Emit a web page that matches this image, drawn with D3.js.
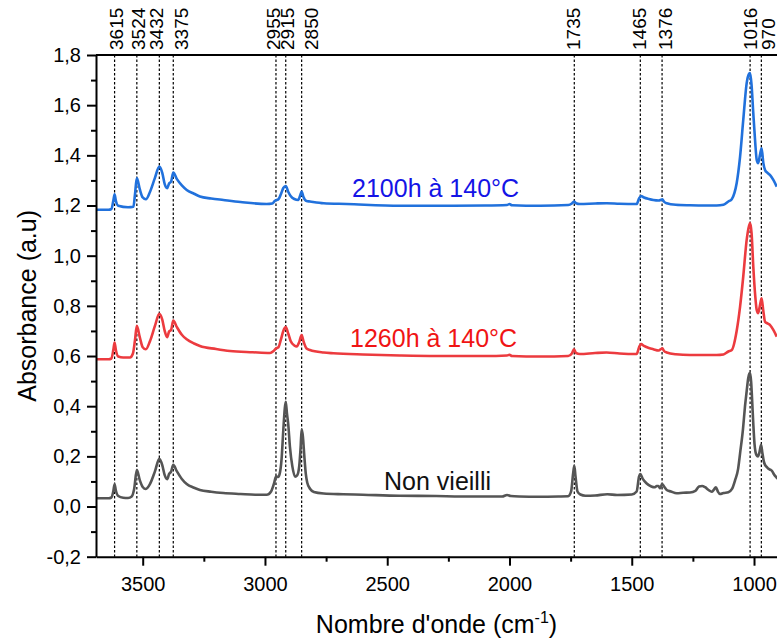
<!DOCTYPE html>
<html>
<head>
<meta charset="utf-8">
<script src="https://d3js.org/d3.v7.min.js"></script>
<style>
    body { margin: 0; background: #fff; }
    svg { display: block; font-family: 'Liberation Sans', Arial, sans-serif; }
</style>
</head>
<body>
<div id="chart"></div>
<script>
// wavenumbers (cm-1) and absorbance
var grayWn = [3690,3640,3628,3620,3615,3610,3600,3580,3560,3545,3535,3524,3512,3500,3487,3470,3450,3432,3420,3410,3400,3392,3384,3375,3360,3340,3320,3290,3266,3220,3170,3100,3040,2993,2975,2962,2955,2946,2940,2932,2925,2919,2915,2910,2905,2898,2888,2877,2868,2860,2854,2850,2845,2839,2833,2827,2815,2800,2760,2680,2600,2450,2300,2200,2100,2030,2010,1995,1960,1880,1800,1760,1748,1740,1735,1730,1722,1710,1690,1650,1600,1560,1500,1480,1470,1465,1455,1440,1420,1405,1398,1391,1384,1376,1368,1357,1340,1316,1290,1262,1240,1225,1212,1200,1186,1173,1165,1156,1148,1139,1125,1105,1090,1077,1065,1057,1045,1037,1030,1024,1019,1016,1012,1008,1003,998,990,984,978,971,966,960,955,948,940,932,925,918,910,902];
var grayAbs = [0.033,0.033,0.036,0.062,0.089,0.065,0.042,0.035,0.034,0.040,0.070,0.146,0.105,0.078,0.070,0.090,0.140,0.190,0.165,0.125,0.109,0.130,0.139,0.166,0.140,0.110,0.090,0.075,0.066,0.059,0.054,0.050,0.047,0.047,0.060,0.095,0.120,0.118,0.130,0.190,0.305,0.390,0.418,0.370,0.330,0.239,0.160,0.119,0.125,0.160,0.239,0.308,0.280,0.200,0.130,0.095,0.070,0.058,0.052,0.049,0.047,0.043,0.042,0.040,0.040,0.040,0.046,0.042,0.040,0.039,0.040,0.041,0.060,0.130,0.162,0.120,0.060,0.048,0.043,0.044,0.049,0.046,0.048,0.060,0.120,0.129,0.110,0.093,0.080,0.077,0.082,0.082,0.073,0.090,0.080,0.066,0.060,0.053,0.055,0.056,0.062,0.080,0.082,0.077,0.066,0.059,0.066,0.077,0.060,0.050,0.054,0.057,0.070,0.106,0.150,0.212,0.310,0.398,0.460,0.510,0.530,0.532,0.500,0.430,0.330,0.250,0.205,0.200,0.215,0.246,0.215,0.180,0.166,0.158,0.150,0.146,0.140,0.128,0.118,0.110];

var redWn = [3690,3640,3628,3620,3615,3610,3600,3580,3552,3540,3532,3524,3512,3500,3487,3470,3450,3432,3420,3410,3400,3392,3384,3375,3360,3340,3320,3290,3266,3200,3143,3050,2979,2965,2955,2945,2935,2925,2915,2905,2895,2880,2870,2860,2850,2843,2830,2816,2760,2720,2600,2448,2300,2100,2010,2000,1990,1874,1760,1745,1736,1728,1712,1650,1603,1550,1480,1470,1462,1450,1430,1412,1390,1380,1375,1368,1357,1320,1262,1200,1153,1125,1105,1091,1071,1057,1044,1030,1020,1016,1010,1003,995,989,983,976,969,962,955,945,935,921,907];
var redAbs = [0.587,0.587,0.590,0.625,0.654,0.625,0.598,0.594,0.594,0.610,0.660,0.720,0.675,0.635,0.627,0.660,0.720,0.768,0.745,0.700,0.675,0.698,0.704,0.741,0.715,0.685,0.667,0.650,0.640,0.628,0.620,0.615,0.612,0.620,0.630,0.635,0.665,0.700,0.715,0.690,0.660,0.642,0.638,0.655,0.684,0.660,0.630,0.624,0.614,0.611,0.606,0.602,0.600,0.600,0.602,0.605,0.600,0.598,0.600,0.610,0.627,0.612,0.608,0.612,0.614,0.610,0.608,0.635,0.648,0.640,0.632,0.627,0.622,0.628,0.631,0.620,0.614,0.607,0.604,0.604,0.604,0.606,0.618,0.624,0.700,0.797,0.917,1.063,1.120,1.130,1.090,0.957,0.840,0.784,0.771,0.800,0.830,0.780,0.737,0.730,0.724,0.704,0.677];

var blueWn = [3690,3640,3628,3620,3615,3610,3600,3560,3538,3532,3524,3512,3500,3487,3470,3450,3432,3420,3410,3400,3392,3384,3375,3360,3340,3320,3290,3266,3220,3170,3100,2993,2970,2959,2945,2935,2925,2915,2905,2895,2880,2864,2856,2850,2843,2830,2816,2760,2666,2448,2300,2100,2010,2000,1990,1874,1760,1745,1736,1728,1712,1650,1603,1550,1480,1470,1462,1450,1430,1412,1390,1380,1375,1368,1357,1320,1262,1200,1153,1125,1105,1091,1080,1071,1057,1044,1030,1020,1016,1010,1003,995,989,983,976,969,962,955,945,935,921,907];
var blueAbs = [1.183,1.183,1.186,1.220,1.245,1.220,1.199,1.193,1.195,1.240,1.309,1.265,1.232,1.225,1.255,1.310,1.355,1.330,1.285,1.269,1.288,1.295,1.331,1.305,1.280,1.262,1.247,1.236,1.228,1.222,1.214,1.206,1.208,1.219,1.225,1.245,1.270,1.278,1.255,1.238,1.226,1.222,1.240,1.256,1.235,1.218,1.216,1.209,1.206,1.199,1.199,1.200,1.202,1.206,1.201,1.199,1.202,1.208,1.216,1.209,1.206,1.208,1.209,1.207,1.206,1.228,1.238,1.232,1.226,1.222,1.220,1.223,1.225,1.215,1.209,1.203,1.201,1.200,1.200,1.203,1.216,1.225,1.250,1.289,1.395,1.541,1.688,1.725,1.728,1.680,1.568,1.450,1.382,1.369,1.400,1.428,1.370,1.342,1.330,1.322,1.302,1.275];

var seriesNames = ["Non vieilli", "1260h à 140°C", "2100h à 140°C"];
var peakMarks = [3615, 3524, 3432, 3375, 2955, 2915, 2850, 1735, 1465, 1376, 1016, 970];
var xMajorTicks = [3500, 3000, 2500, 2000, 1500, 1000];
var xMinorTicks = [3250, 2750, 2250, 1750, 1250];
var yMajorTicks = [-0.2, 0, 0.2, 0.4, 0.6, 0.8, 1.0, 1.2, 1.4, 1.6, 1.8];
var yMinorTicks = [-0.1, 0.1, 0.3, 0.5, 0.7, 0.9, 1.1, 1.3, 1.5, 1.7];

var width = 777, height = 641;
var margin = {top: 55, right: 0, bottom: 84.3, left: 96};
var plotW = width - margin.left - margin.right,
    plotH = height - margin.top - margin.bottom;

var svg = d3.select("#chart").append("svg")
    .attr("width", width)
    .attr("height", height);

var g = svg.append("g")
    .attr("transform", "translate(" + margin.left + "," + margin.top + ")");

var x = d3.scaleLinear().domain([3691, 906]).range([0, plotW]);
var y = d3.scaleLinear().domain([-0.2, 1.8]).range([plotH, 0]);

var comma = function(v) { return v.toFixed(1).replace(".", ","); };

g.append("clipPath").attr("id", "clip")
    .append("rect").attr("width", plotW).attr("height", plotH);

// dashed peak markers
g.selectAll(".peak")
    .data(peakMarks)
    .enter().append("line")
    .attr("x1", function(d) { return x(d); })
    .attr("x2", function(d) { return x(d); })
    .attr("y1", 0)
    .attr("y2", plotH)
    .attr("stroke", "#000")
    .attr("stroke-width", 1.2)
    .attr("stroke-dasharray", "2.5,2");

// labels above the frame, nudged a bit where they crowd
var nudge = {3615: 2, 3524: 1, 3432: -3, 3375: 8, 2955: -3, 2915: 1, 2850: 10, 1735: -1, 1465: -1, 1376: 3, 1016: 0, 970: 7};
g.selectAll(".peakLabel")
    .data(peakMarks)
    .enter().append("text")
    .attr("transform", function(d) { return "translate(" + (x(d) + nudge[d]) + ",-5) rotate(-90)"; })
    .attr("dy", "0.36em")
    .attr("font-size", 19)
    .attr("fill", "#000")
    .text(function(d) { return d; });

var series = [
    {name: seriesNames[0], wn: grayWn, ab: grayAbs, color: "#555555", text: "#111111", lx: 2513, ly: 0.066},
    {name: seriesNames[1], wn: redWn, ab: redAbs, color: "#ec3b3f", text: "#f01414", lx: 2652, ly: 0.637},
    {name: seriesNames[2], wn: blueWn, ab: blueAbs, color: "#2171dc", text: "#1414e6", lx: 2644, ly: 1.235}
];

var line = d3.line()
    .x(function(d) { return x(d[0]); })
    .y(function(d) { return y(d[1]); })
    .curve(d3.curveMonotoneX);

series.forEach(function(s) {
    var pts = s.wn.map(function(w, i) { return [w, s.ab[i]]; });
    g.append("path")
        .datum(pts)
        .attr("clip-path", "url(#clip)")
        .attr("fill", "none")
        .attr("stroke", s.color)
        .attr("stroke-width", 2.6)
        .attr("stroke-linejoin", "round")
        .attr("d", line);

    g.append("text")
        .attr("x", x(s.lx))
        .attr("y", y(s.ly))
        .attr("font-size", 25)
        .attr("fill", s.text)
        .text(s.name);
});

// axes
g.append("g")
    .attr("transform", "translate(0," + plotH + ")")
    .call(d3.axisBottom(x).tickValues(xMajorTicks).tickSizeInner(9).tickSizeOuter(0).tickPadding(11).tickFormat(d3.format("d")));
g.append("g")
    .attr("transform", "translate(0," + plotH + ")")
    .call(d3.axisBottom(x).tickValues(xMinorTicks).tickSize(5).tickFormat(""))
    .select(".domain").remove();

g.append("g")
    .call(d3.axisLeft(y).tickValues(yMajorTicks).tickSizeInner(9).tickSizeOuter(0).tickPadding(6).tickFormat(comma));
g.append("g")
    .call(d3.axisLeft(y).tickValues(yMinorTicks).tickSize(5).tickFormat(""))
    .select(".domain").remove();

g.append("line")
    .attr("x1", 0).attr("x2", plotW)
    .attr("y1", 0).attr("y2", 0)
    .attr("stroke", "#000").attr("stroke-width", 2);

g.selectAll(".domain").attr("stroke-width", 2);
g.selectAll(".tick line").attr("stroke-width", 2);
g.selectAll(".tick text")
    .attr("font-size", 20)
    .attr("font-family", "'Liberation Sans', Arial, sans-serif")
    .attr("fill", "#000");

// axis titles
var xt = svg.append("text")
    .attr("x", margin.left + plotW / 2)
    .attr("y", 633)
    .attr("text-anchor", "middle")
    .attr("font-size", 25)
    .attr("fill", "#000");
xt.append("tspan").text("Nombre d'onde (cm");
xt.append("tspan").attr("font-size", 16).attr("dy", -10).text("-1");
xt.append("tspan").attr("dy", 10).text(")");

svg.append("text")
    .attr("transform", "translate(36," + (margin.top + plotH / 2) + ") rotate(-90)")
    .attr("text-anchor", "middle")
    .attr("font-size", 25)
    .attr("fill", "#000")
    .text("Absorbance (a.u)");
</script>
</body>
</html>
